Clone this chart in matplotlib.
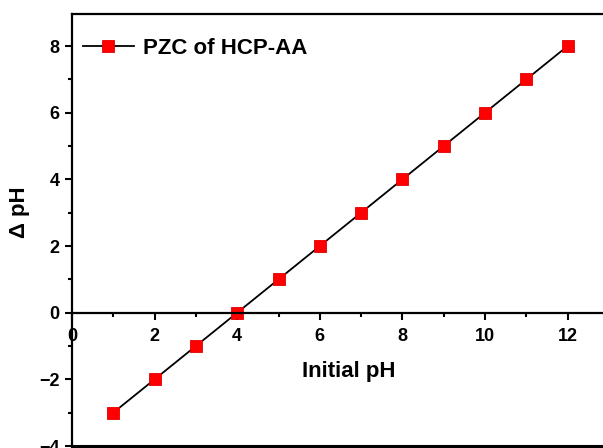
import matplotlib
matplotlib.use("Agg")
import matplotlib.pyplot as plt
from matplotlib.ticker import MultipleLocator

initial_ph = [1, 2, 3, 4, 5, 6, 7, 8, 9, 10, 11, 12]
delta_ph = [-3, -2, -1, 0, 1, 2, 3, 4, 5, 6, 7, 8]
series_label = "PZC of HCP-AA"

plt.rcParams["font.family"] = ["Liberation Sans", "DejaVu Sans"]
plt.rcParams["font.weight"] = "bold"

fig = plt.figure(figsize=(6.03, 4.48), dpi=100)
ax = fig.add_axes([72 / 603, 2 / 448, 537 / 603, 432 / 448])

ax.plot(initial_ph, delta_ph, color="black", linewidth=1.3, marker="s",
        markersize=8.5, markerfacecolor="#ff0000", markeredgecolor="#e00000",
        markeredgewidth=0.6, label=series_label)

ax.set_xlim(0, 13)
ax.set_ylim(-4, 8.96)

# x axis drawn through y = 0, frame closed at the bottom
ax.spines["bottom"].set_position(("data", 0))
ax.spines["right"].set_visible(False)
for s in ("left", "top", "bottom"):
    ax.spines[s].set_linewidth(1.6)
ax.axhline(-4, color="black", linewidth=2.2, clip_on=False)

ax.xaxis.set_major_locator(MultipleLocator(2))
ax.xaxis.set_minor_locator(MultipleLocator(1))
ax.yaxis.set_major_locator(MultipleLocator(2))
ax.yaxis.set_minor_locator(MultipleLocator(1))
ax.tick_params(axis="both", which="major", direction="out", length=5, width=1.5,
               labelsize=13, pad=4)
ax.tick_params(axis="both", which="minor", direction="out", length=3, width=1.5)
ax.tick_params(axis="x", which="major", pad=6)
ax.set_xticks([0, 2, 4, 6, 8, 10, 12])
ax.set_xticklabels(["0", "2", "4", "6", "8", "10", "12"], fontweight="bold")
ax.set_yticks([-4, -2, 0, 2, 4, 6, 8])
ax.set_yticklabels(["\u22124", "\u22122", "0", "2", "4", "6", "8"], fontweight="bold")

ax.text(6.7, -1.77, "Initial pH", ha="center", va="center",
        fontsize=16, fontweight="bold")
ax.text(-52 / 537, 234 / 432, "\u0394 pH", transform=ax.transAxes,
        ha="center", va="center", rotation=90, fontsize=16, fontweight="bold")

ax.legend(loc="upper left", bbox_to_anchor=(-0.005, 0.975), frameon=False,
          prop={"size": 16, "weight": "bold"}, handlelength=2.3,
          handletextpad=0.4, borderaxespad=0.2)

fig.savefig("out.png", dpi=100)
